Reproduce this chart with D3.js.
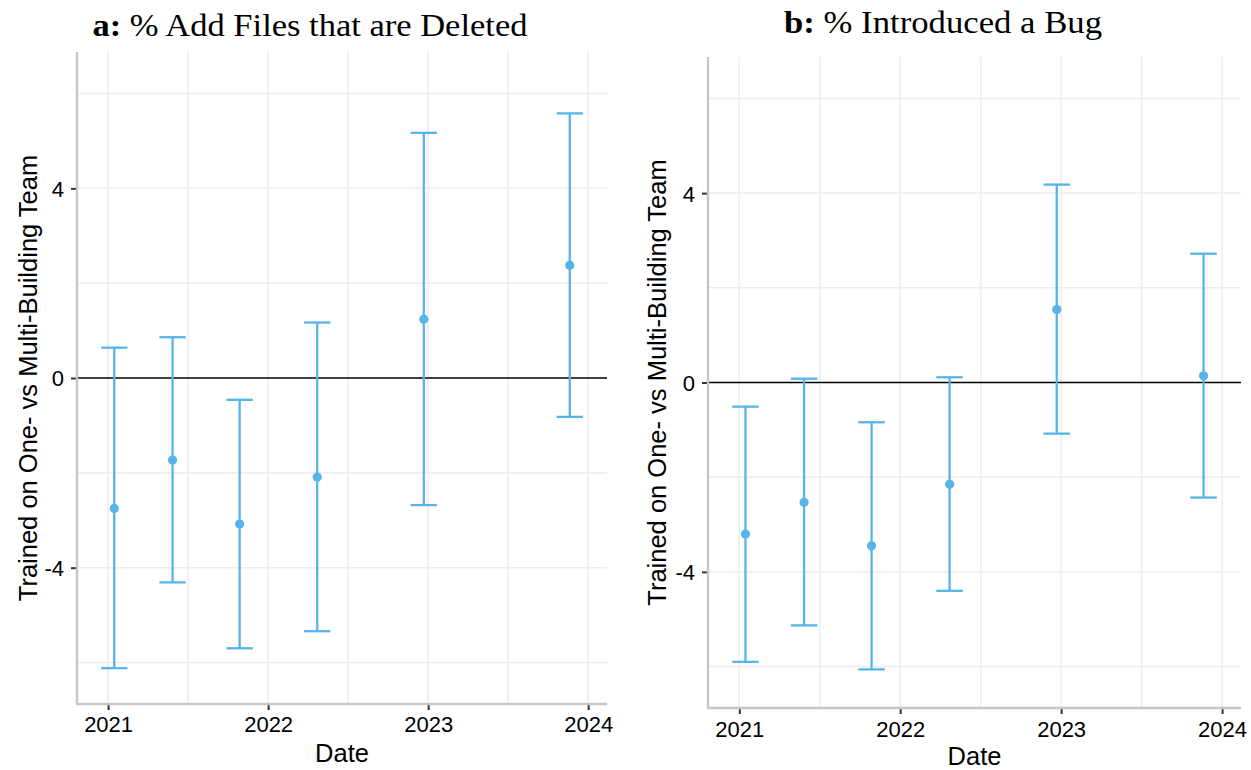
<!DOCTYPE html>
<html>
<head>
<meta charset="utf-8">
<script src="https://cdn.jsdelivr.net/npm/d3@7"></script>
<style>
  html, body { margin: 0; padding: 0; background: #ffffff; }
  svg { display: block; }
</style>
</head>
<body>
<svg id="chart" width="1251" height="770"></svg>
<script>
// Release dates of the six model snapshots
const dates = ["2021-01-15", "2021-05-28", "2021-10-28", "2022-04-23", "2022-12-22", "2023-11-20"];

// Panel a: % added files that are later deleted (estimate and 95% CI)
const deletedEst = [-2.75, -1.73, -3.08, -2.09, 1.24, 2.38];
const deletedLo  = [-6.12, -4.31, -5.70, -5.34, -2.68, -0.82];
const deletedHi  = [0.64, 0.86, -0.46, 1.17, 5.17, 5.58];

// Panel b: % of changes that introduced a bug (estimate and 95% CI)
const bugEst = [-3.20, -2.53, -3.45, -2.15, 1.54, 0.14];
const bugLo  = [-5.90, -5.13, -6.06, -4.40, -1.08, -2.43];
const bugHi  = [-0.51, 0.08, -0.84, 0.11, 4.18, 2.72];

// Axis breaks
const yTicks = [-4, 0, 4];
const yMinor = [-6, -2, 2, 6];
const xYears = [2021, 2022, 2023, 2024];
const yLimits = [-6.25, 6.25];

const xLabel = "Date";
const yLabel = "Trained on One- vs Multi-Building Team";

const BLUE = "#56B4E9";
const SANS = "'Liberation Sans', Arial, Helvetica, sans-serif";
const svg = d3.select("#chart");
const parse = d3.timeParse("%Y-%m-%d");
const DAY = 24 * 3600 * 1000;

function drawPanel(cfg) {
  const rows = dates.map((d, i) => ({
    date: parse(d), est: cfg.est[i], lo: cfg.lo[i], hi: cfg.hi[i]
  }));

  // x domain: data range plus half the cap width, expanded by 5%
  const half = 30 * DAY;
  const t0 = d3.min(rows, r => +r.date) - half;
  const t1 = d3.max(rows, r => +r.date) + half;
  const pad = (t1 - t0) * 0.05;
  const x = d3.scaleTime()
    .domain([new Date(t0 - pad), new Date(t1 + pad)])
    .range([cfg.left, cfg.right]);

  const ypad = (yLimits[1] - yLimits[0]) * 0.05;
  const y = d3.scaleLinear()
    .domain([yLimits[0] - ypad, yLimits[1] + ypad])
    .range([cfg.bottom, cfg.top]);

  const g = svg.append("g");

  // grid
  const majorX = xYears.map(yr => new Date(yr, 0, 1));
  const minorX = [];
  for (let i = 0; i < majorX.length - 1; i++) {
    minorX.push(new Date((+majorX[i] + +majorX[i + 1]) / 2));
  }
  const grid = g.append("g").attr("stroke", "#ededed").attr("stroke-width", 1.5);
  grid.selectAll("line.hy").data(yMinor.concat(yTicks.filter(v => v !== 0))).join("line")
    .attr("x1", cfg.left).attr("x2", cfg.right)
    .attr("y1", d => y(d)).attr("y2", d => y(d));
  grid.selectAll("line.vx").data(majorX.concat(minorX)).join("line")
    .attr("y1", cfg.top).attr("y2", cfg.bottom)
    .attr("x1", d => x(d)).attr("x2", d => x(d));

  // zero reference line
  g.append("line")
    .attr("x1", cfg.left).attr("x2", cfg.right)
    .attr("y1", y(0)).attr("y2", y(0))
    .attr("stroke", "#000").attr("stroke-width", 1.7);

  // axes
  const xAxis = d3.axisBottom(x).tickValues(majorX).tickFormat(d3.timeFormat("%Y"))
    .tickSize(6).tickPadding(6);
  const gx = g.append("g").attr("transform", `translate(0,${cfg.bottom})`).call(xAxis);
  const yAxis = d3.axisLeft(y).tickValues(yTicks).tickFormat(d => d3.format("d")(d).replace("−", "-"))
    .tickSize(6).tickPadding(7);
  const gy = g.append("g").attr("transform", `translate(${cfg.left},0)`).call(yAxis);

  [gx, gy].forEach(ax => {
    ax.attr("font-family", null).attr("font-size", null);
    ax.select(".domain").remove();
    ax.selectAll(".tick line").attr("stroke", "#333").attr("stroke-width", 2);
    ax.selectAll(".tick text")
      .attr("fill", "#000")
      .style("font-family", SANS)
      .style("font-size", "22px");
  });
  gx.selectAll(".tick text").attr("dy", null).attr("y", null)
    .attr("transform", `translate(0,${cfg.tickBase - cfg.bottom})`);
  gy.selectAll(".tick text").attr("dy", "0.36em");

  // axis lines
  g.append("line")
    .attr("x1", cfg.left).attr("x2", cfg.left)
    .attr("y1", cfg.top).attr("y2", cfg.bottom + 1)
    .attr("stroke", "#c6c6c6").attr("stroke-width", 2.4);
  g.append("line")
    .attr("x1", cfg.left - 1).attr("x2", cfg.right)
    .attr("y1", cfg.bottom).attr("y2", cfg.bottom)
    .attr("stroke", "#c6c6c6").attr("stroke-width", 2.4);

  // error bars
  const bars = g.append("g").attr("stroke", BLUE).attr("stroke-width", 2.3).attr("fill", "none");
  bars.selectAll("line.v").data(rows).join("line")
    .attr("x1", d => x(d.date)).attr("x2", d => x(d.date))
    .attr("y1", d => y(d.lo)).attr("y2", d => y(d.hi));
  bars.selectAll("line.lo").data(rows).join("line")
    .attr("x1", d => x(new Date(+d.date - half))).attr("x2", d => x(new Date(+d.date + half)))
    .attr("y1", d => y(d.lo)).attr("y2", d => y(d.lo));
  bars.selectAll("line.hi").data(rows).join("line")
    .attr("x1", d => x(new Date(+d.date - half))).attr("x2", d => x(new Date(+d.date + half)))
    .attr("y1", d => y(d.hi)).attr("y2", d => y(d.hi));

  // point estimates
  g.append("g").selectAll("circle").data(rows).join("circle")
    .attr("cx", d => x(d.date)).attr("cy", d => y(d.est))
    .attr("r", 4.6).attr("fill", BLUE);

  // axis titles
  g.append("text")
    .attr("x", (cfg.left + cfg.right) / 2).attr("y", cfg.xTitleBase)
    .attr("text-anchor", "middle")
    .style("font-family", SANS)
    .style("font-size", "25.5px")
    .text(xLabel);
  g.append("text")
    .attr("transform", `translate(${cfg.yTitleX},${(cfg.top + cfg.bottom) / 2}) rotate(-90)`)
    .attr("text-anchor", "middle")
    .style("font-family", SANS)
    .style("font-size", "25.5px")
    .text(yLabel);

  // panel title
  const title = g.append("text")
    .attr("x", cfg.titleX).attr("y", cfg.titleBase)
    .attr("text-anchor", "middle")
    .style("font-family", "'Liberation Serif', 'Times New Roman', serif")
    .style("font-size", "31px")
    .attr("textLength", cfg.titleWidth)
    .attr("lengthAdjust", "spacingAndGlyphs");
  title.append("tspan").attr("font-weight", "bold").text(cfg.tag);
  title.append("tspan").text(" " + cfg.title);
}

drawPanel({
  est: deletedEst, lo: deletedLo, hi: deletedHi,
  left: 77, right: 607, top: 52, bottom: 704,
  tickBase: 732, xTitleBase: 762, yTitleX: 37,
  titleX: 310, titleBase: 36, titleWidth: 435,
  tag: "a:", title: "% Add Files that are Deleted"
});

drawPanel({
  est: bugEst, lo: bugLo, hi: bugHi,
  left: 708, right: 1241, top: 57, bottom: 708,
  tickBase: 737, xTitleBase: 765, yTitleX: 666,
  titleX: 943, titleBase: 33, titleWidth: 318,
  tag: "b:", title: "% Introduced a Bug"
});
</script>
</body>
</html>
